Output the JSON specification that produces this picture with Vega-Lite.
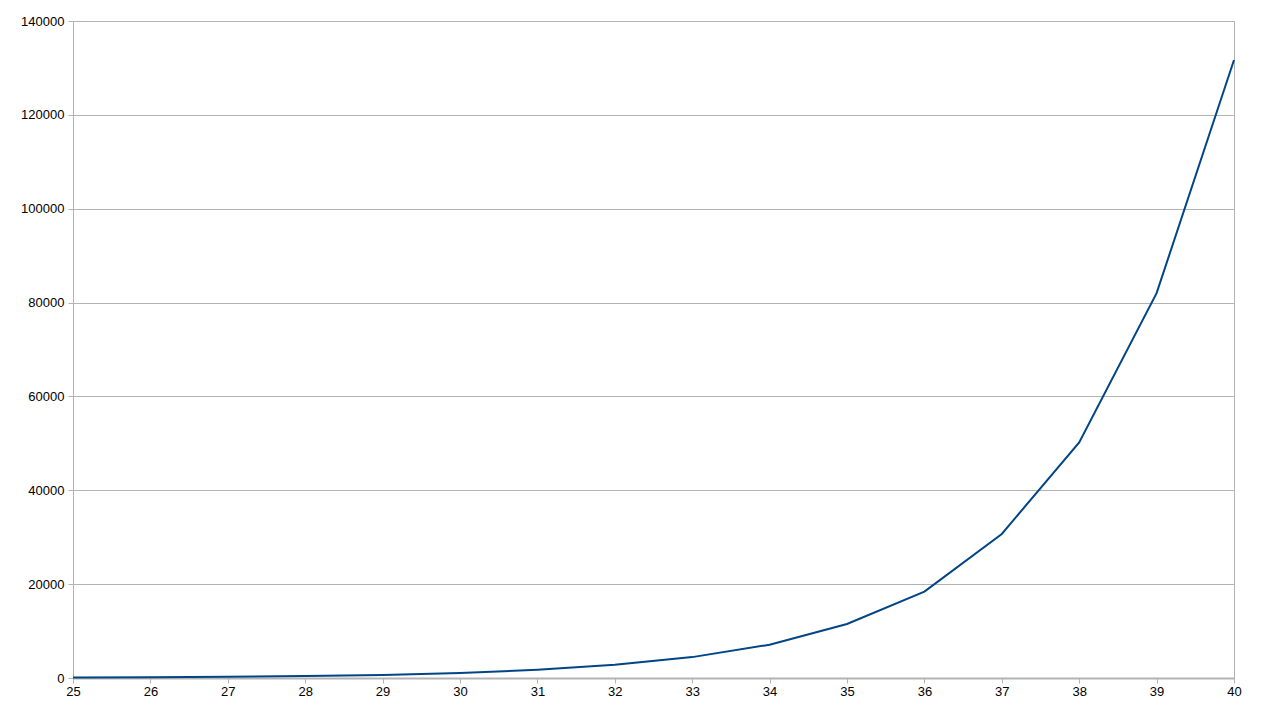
{
  "$schema": "https://vega.github.io/schema/vega-lite/v6.json",
  "width": 1161,
  "height": 657,
  "autosize": "none",
  "padding": {"left": 73, "top": 21, "right": 36, "bottom": 36},
  "background": "white",
  "config": {
    "font": "Liberation Sans",
    "view": {"stroke": "#b3b3b3", "strokeWidth": 1},
    "axis": {
      "labelFont": "Liberation Sans",
      "labelFontSize": 13,
      "labelColor": "black",
      "domainColor": "#b3b3b3",
      "tickColor": "#b3b3b3",
      "gridColor": "#b3b3b3",
      "gridOpacity": 1,
      "tickSize": 5,
      "title": null
    }
  },
  "data": {
    "values": [
      {"n": 25, "value": 100},
      {"n": 26, "value": 150},
      {"n": 27, "value": 250},
      {"n": 28, "value": 400},
      {"n": 29, "value": 650},
      {"n": 30, "value": 1050},
      {"n": 31, "value": 1750},
      {"n": 32, "value": 2800},
      {"n": 33, "value": 4450},
      {"n": 34, "value": 7100},
      {"n": 35, "value": 11500},
      {"n": 36, "value": 18400},
      {"n": 37, "value": 30700},
      {"n": 38, "value": 50200},
      {"n": 39, "value": 82000},
      {"n": 40, "value": 131700}
    ]
  },
  "mark": {"type": "line", "color": "#004586", "strokeWidth": 2},
  "encoding": {
    "x": {
      "field": "n",
      "type": "quantitative",
      "scale": {"domain": [25, 40], "nice": false, "zero": false},
      "axis": {
        "values": [25, 26, 27, 28, 29, 30, 31, 32, 33, 34, 35, 36, 37, 38, 39, 40],
        "format": "d",
        "grid": false,
        "labelPadding": 2,
        "labelOverlap": false,
        "labelFlush": false,
        "domainWidth": 2
      }
    },
    "y": {
      "field": "value",
      "type": "quantitative",
      "scale": {"domain": [0, 140000], "nice": false},
      "axis": {
        "values": [0, 20000, 40000, 60000, 80000, 100000, 120000, 140000],
        "format": "d",
        "grid": true,
        "labelPadding": 4,
        "labelFlush": false,
        "labelOverlap": false
      }
    }
  }
}
